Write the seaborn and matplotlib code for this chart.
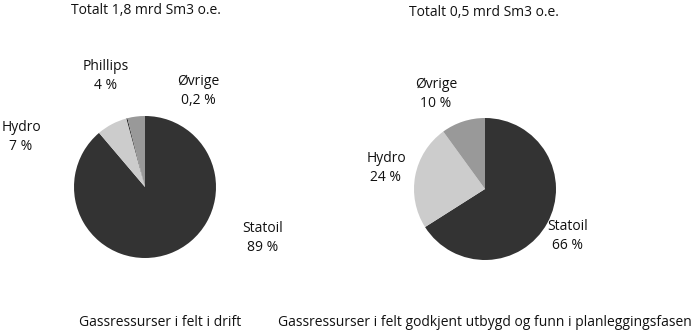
import matplotlib
matplotlib.use("Agg")
import matplotlib.pyplot as plt
import seaborn as sns

sns.set_theme(style="white")
plt.rcParams['font.family'] = ['Open Sans', 'DejaVu Sans']

# Data
left_labels = ["Statoil", "Hydro", "Øvrige", "Phillips"]
left_values = [88.8, 7.0, 0.2, 4.0]
left_pct_text = ["89 %", "7 %", "0,2 %", "4 %"]
right_labels = ["Statoil", "Hydro", "Øvrige"]
right_values = [66, 24, 10]
right_pct_text = ["66 %", "24 %", "10 %"]
left_title = "Totalt 1,8 mrd Sm3 o.e."
right_title = "Totalt 0,5 mrd Sm3 o.e."
left_caption = "Gassressurser i felt i drift"
right_caption = "Gassressurser i felt godkjent utbygd og funn i planleggingsfasen"

colors_left = ["#333333", "#cccccc", "#000000", "#999999"]
colors_right = ["#333333", "#cccccc", "#999999"]

W, H = 699, 333
fig = plt.figure(figsize=(W / 100, H / 100), dpi=100)

def add_pie(cx, cy, r, values, colors):
    ax = fig.add_axes([(cx - r) / W, (H - cy - r) / H, 2 * r / W, 2 * r / H])
    ax.pie(values, colors=colors, startangle=90, counterclock=False,
           wedgeprops=dict(linewidth=0))
    ax.set_xlim(-1, 1)
    ax.set_ylim(-1, 1)
    ax.set_aspect("equal")
    ax.axis("off")
    return ax

add_pie(145, 187, 71, left_values, colors_left)
add_pie(485, 189, 71, right_values, colors_right)

def ftext(x, y, s, ha="center", size=10):
    fig.text(x / W, 1 - y / H, s, ha=ha, va="center", fontsize=size,
             color="#111111", linespacing=1.45)

ftext(146, 11, left_title)
ftext(484, 13, right_title)

# left pie labels
ftext(21, 137, f"{left_labels[1]}\n{left_pct_text[1]}")
ftext(106, 76, f"{left_labels[3]}\n{left_pct_text[3]}")
ftext(198, 91, f"{left_labels[2]}\n{left_pct_text[2]}")
ftext(263, 238, f"{left_labels[0]}\n{left_pct_text[0]}")

# right pie labels
ftext(436, 94, f"{right_labels[2]}\n{right_pct_text[2]}")
ftext(386, 168, f"{right_labels[1]}\n{right_pct_text[1]}")
ftext(568, 236, f"{right_labels[0]}\n{right_pct_text[0]}")

ftext(160, 322, left_caption)
ftext(485, 322, right_caption)

fig.savefig("out.png", dpi=100)
